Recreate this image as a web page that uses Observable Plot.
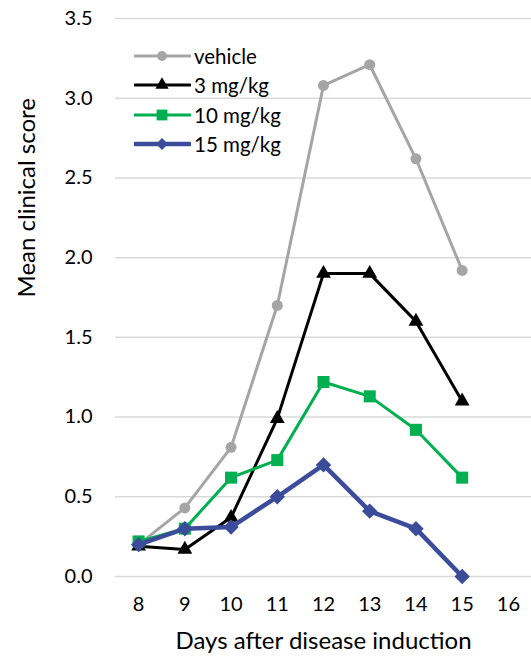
<!DOCTYPE html>
<html><head><meta charset="utf-8">
<script src="https://cdn.jsdelivr.net/npm/d3@7"></script>
<script src="https://cdn.jsdelivr.net/npm/@observablehq/plot@0.6"></script>
<style>
body{margin:0;background:#fff;font-family:Lato,"Open Sans",sans-serif;}
#wrap{position:relative;width:531px;height:661px;}
#legend{position:absolute;left:134px;top:41px;font-size:20.5px;color:#000;}
.li{display:flex;align-items:center;height:29.5px;}
.li span{margin-left:3px;}
</style></head>
<body><div id="wrap"><div id="chart"></div><div id="legend"></div></div>
<script>
const days = [8, 9, 10, 11, 12, 13, 14, 15];
const xTicks = [8, 9, 10, 11, 12, 13, 14, 15, 16];
const yTicks = [0, 0.5, 1, 1.5, 2, 2.5, 3, 3.5];
const seriesNames = ["vehicle", "3 mg/kg", "10 mg/kg", "15 mg/kg"];
const vehicle = [0.20, 0.43, 0.81, 1.70, 3.08, 3.21, 2.62, 1.92];
const mg3 = [0.19, 0.17, 0.37, 0.99, 1.90, 1.90, 1.60, 1.10];
const mg10 = [0.22, 0.30, 0.62, 0.73, 1.22, 1.13, 0.92, 0.62];
const mg15 = [0.20, 0.30, 0.31, 0.50, 0.70, 0.41, 0.30, 0.00];
const colors = ["#A5A5A5", "#000000", "#00B050", "#3A4C9A"];
const symbols = ["circle", "triangle", "square", "diamond2"];
const widths = [3, 3, 3, 4.5];
const radii = [5.5, 5.5, 6.8, 6];

const values = [vehicle, mg3, mg10, mg15];
const data = [];
values.forEach((arr, s) => arr.forEach((v, i) => data.push({series: seriesNames[s], day: days[i], value: v, s})));

const marks = [
  Plot.ruleY(yTicks, {stroke: "#D9D9D9", strokeWidth: 1.5}),
  Plot.axisY(yTicks, {tickSize: 0, tickPadding: 23, tickFormat: d3.format(".1f"), fontSize: 20, label: null}),
  Plot.axisX(xTicks, {tickSize: 0, tickPadding: 20, fontSize: 20, label: null}),
  Plot.text(["Mean clinical score"], {frameAnchor: "left", rotate: -90, dx: -88, fontSize: 24, fill: "#000"}),
  Plot.text(["Days after disease induction"], {frameAnchor: "bottom", dy: 72, dx: 0, fontSize: 24, fill: "#000"})
];
seriesNames.forEach((name, s) => {
  const d = data.filter(e => e.s === s);
  marks.push(Plot.line(d, {x: "day", y: "value", stroke: colors[s], strokeWidth: widths[s]}));
  marks.push(Plot.dot(d, {x: "day", y: "value", fill: colors[s], stroke: colors[s], strokeWidth: s === 3 ? 1.5 : 0, symbol: () => symbols[s], r: radii[s]}));
});

const chart = Plot.plot({
  width: 531, height: 661,
  marginLeft: 115, marginRight: 0, marginTop: 18, marginBottom: 85,
  style: {fontFamily: "Lato, 'Open Sans', sans-serif", fontSize: "20px", color: "#000", background: "#fff"},
  x: {type: "linear", domain: [7.5, 16.5], axis: null},
  y: {domain: [0, 3.5], axis: null},
  symbol: {type: "identity"},
  marks
});
document.getElementById("chart").append(chart);

// Legend
const leg = document.getElementById("legend");
const symMap = {circle: d3.symbolCircle, triangle: d3.symbolTriangle, square: d3.symbolSquare, diamond2: d3.symbolDiamond2};
seriesNames.forEach((name, s) => {
  const row = document.createElement("div"); row.className = "li";
  const svg = d3.create("svg").attr("width", 57).attr("height", 20);
  svg.append("line").attr("x1", 1).attr("x2", 56).attr("y1", 10).attr("y2", 10).attr("stroke", colors[s]).attr("stroke-width", widths[s]).attr("stroke-linecap", "round");
  svg.append("path").attr("transform", "translate(28,10)").attr("d", d3.symbol(symMap[symbols[s]], Math.PI * radii[s] * radii[s] * 0.8)()).attr("fill", colors[s]);
  row.append(svg.node());
  const sp = document.createElement("span"); sp.textContent = name; row.append(sp);
  leg.append(row);
});
</script></body></html>
